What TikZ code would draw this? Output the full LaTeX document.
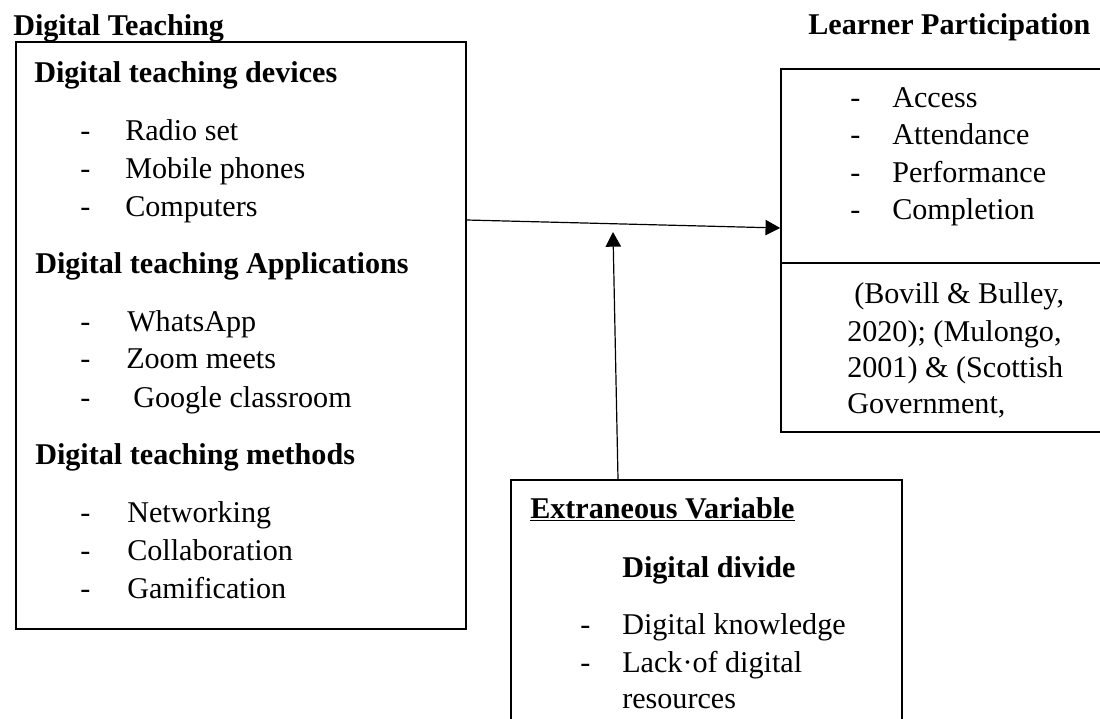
\documentclass[tikz,border=0pt]{standalone}
\usepackage{fontspec}
\setmainfont{Liberation Serif}
\usetikzlibrary{arrows.meta,fit}
\tikzset{
  txt/.style={inner sep=0pt, anchor=base west, font=\fontsize{22.6}{27}\selectfont},
  hd/.style={txt, font=\fontsize{22.6}{27}\selectfont\bfseries},
  frame/.style={draw, line width=1.2pt, inner sep=0pt},
  arr/.style={line width=0.9pt, -{Triangle[length=11pt,width=11.5pt]}}
}
\begin{document}
\begin{tikzpicture}[x=0.75pt,y=-0.75pt]
\useasboundingbox (0,0) rectangle (1100,718);
\clip (0,0) rectangle (1100,718);
% boxes
\node[frame, fit={(16,42) (466,629)}] (L) {};
\node[frame, fit={(781,69) (1112,263)}] (Rtop) {};
\node[frame, fit={(781,263) (1112,432)}] (Rbot) {};
\node[frame, fit={(511,480) (902,740)}] (B) {};
% headings
\node[hd] (hL) at (13,35) {Digital Teaching};
\node[hd] (hR) at (808,34) {Learner Participation};
% left box
\node[hd] (s1) at (34,82) {Digital teaching devices};
\node[txt] (d11) at (80,140) {-};
\node[txt] (t11) at (125,140) {Radio set};
\node[txt] (d12) at (80,178) {-};
\node[txt] (t12) at (125,178) {Mobile phones};
\node[txt] (d13) at (80,216) {-};
\node[txt] (t13) at (125,216) {Computers};
\node[hd] (s2) at (35,273) {Digital teaching Applications};
\node[txt] (d21) at (80,331) {-};
\node[txt] (t21) at (127,331) {WhatsApp};
\node[txt] (d22) at (80,368) {-};
\node[txt] (t22) at (126,368) {Zoom meets};
\node[txt] (d23) at (80,407) {-};
\node[txt] (t23) at (133,407) {Google classroom};
\node[hd] (s3) at (35,464) {Digital teaching methods};
\node[txt] (d31) at (80,522) {-};
\node[txt] (t31) at (127,522) {Networking};
\node[txt] (d32) at (80,560) {-};
\node[txt] (t32) at (127,560) {Collaboration};
\node[txt] (d33) at (80,598) {-};
\node[txt] (t33) at (127,598) {Gamification};
% right box
\node[txt] (rd1) at (850,107) {-};
\node[txt] (r1) at (892,107) {Access};
\node[txt] (rd2) at (850,144) {-};
\node[txt] (r2) at (892,144) {Attendance};
\node[txt] (rd3) at (850,182) {-};
\node[txt] (r3) at (892,182) {Performance};
\node[txt] (rd4) at (850,219) {-};
\node[txt] (r4) at (892,219) {Completion};
\node[txt] (c1) at (854,303) {(Bovill \& Bulley,};
\node[txt] (c2) at (847,341) {2020); (Mulongo,};
\node[txt] (c3) at (847,377) {2001) \& (Scottish};
\node[txt] (c4) at (847,413) {Government,};
% bottom box
\node[hd] (bx) at (530,518) {\underline{Extraneous Variable}};
\node[hd] (bd) at (622,577) {Digital divide};
\node[txt] (bd1) at (580,634) {-};
\node[txt] (b1) at (622,634) {Digital knowledge};
\node[txt] (bd2) at (580,672) {-};
\node[txt] (b2) at (622,672) {Lack·of digital};
\node[txt] (b3) at (622,708) {resources};
% connectors
\coordinate (hs) at (L.east |- 0,220);
\coordinate (he) at (Rtop.west |- 0,228);
\draw[arr] (hs) -- (he);
\coordinate (vs) at (B.north -| 618,0);
\coordinate (vt) at (613,232);
\draw[arr] (vs) -- (vt);
\end{tikzpicture}
\end{document}
